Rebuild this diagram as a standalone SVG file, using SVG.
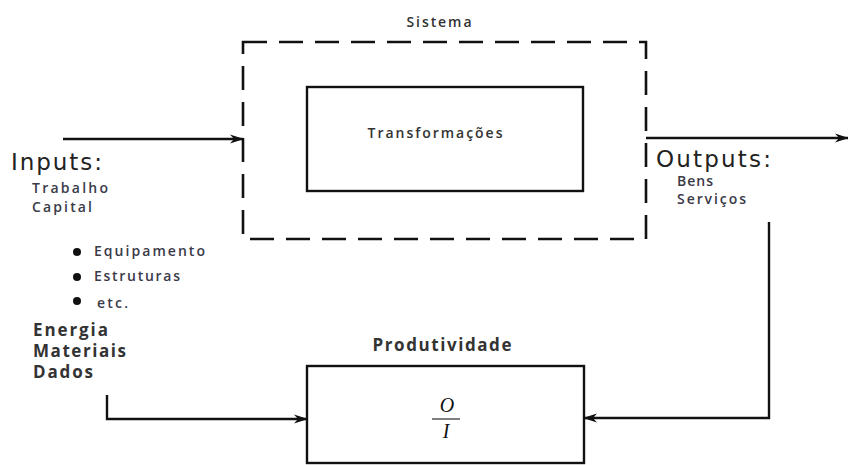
<svg xmlns="http://www.w3.org/2000/svg" width="848" height="465" viewBox="0 0 848 465">
<defs>
<marker id="arr" markerWidth="14" markerHeight="10" refX="13" refY="5" orient="auto" markerUnits="userSpaceOnUse">
<path d="M0,0.5 L14,5 L0,9.5 L4,5 Z" fill="#111"/>
</marker>
<style>
.ln{fill:none;stroke:#111;stroke-width:2.4}
.box{fill:none;stroke:#111;stroke-width:2.4}
.dash{fill:none;stroke:#111;stroke-width:2.6;stroke-dasharray:24 12}
.big{font-family:"DejaVu Sans",sans-serif;font-size:23px;fill:#222}
.sm{font-family:"Open Sans","DejaVu Sans",sans-serif;font-size:14px;font-weight:600;fill:#3a3a48}
.md{font-family:"Open Sans","DejaVu Sans",sans-serif;font-size:17px;font-weight:700;fill:#333}
.ttl{font-family:"Open Sans","DejaVu Sans",sans-serif;font-size:14px;font-weight:600;fill:#333}
.math{font-family:"Liberation Serif",serif;font-style:italic;font-size:20px;fill:#111}
</style>
</defs>
<rect width="848" height="465" fill="#fff"/>
<g id="sistema">
<rect class="dash" x="243" y="42" width="403" height="197"/>
<text class="ttl" x="439" y="27" text-anchor="middle" textLength="65">Sistema</text>
</g>
<g id="transformacoes">
<rect class="box" x="307" y="87" width="276" height="104"/>
<text class="ttl" x="435" y="138" text-anchor="middle" textLength="135">Transformações</text>
</g>
<g id="produtividade">
<rect class="box" x="307" y="366" width="277" height="97"/>
<text class="md" x="442" y="351" text-anchor="middle" textLength="139">Produtividade</text>
<text class="math" x="447" y="412" text-anchor="middle">O</text>
<line x1="432" y1="419" x2="460" y2="419" stroke="#555" stroke-width="1.5"/>
<text class="math" x="446" y="438" text-anchor="middle">I</text>
</g>
<g id="inputs">
<text class="big" x="11" y="170" textLength="91">Inputs:</text>
<text class="sm" x="32" y="193" textLength="76">Trabalho</text>
<text class="sm" x="32" y="212" textLength="60">Capital</text>
<circle cx="77" cy="252" r="4" fill="#111"/>
<circle cx="77" cy="277" r="4" fill="#111"/>
<circle cx="77" cy="301" r="4" fill="#111"/>
<text class="sm" x="94" y="256" textLength="111">Equipamento</text>
<text class="sm" x="94" y="281" textLength="86">Estruturas</text>
<text class="sm" x="97" y="308" textLength="31">etc.</text>
<text class="md" x="33" y="336" textLength="75">Energia</text>
<text class="md" x="33" y="357" textLength="93">Materiais</text>
<text class="md" x="33" y="378" textLength="60">Dados</text>
</g>
<g id="outputs">
<text class="big" x="656" y="167" textLength="115">Outputs:</text>
<text class="sm" x="677" y="186" textLength="36">Bens</text>
<text class="sm" x="677" y="204" textLength="69">Serviços</text>
</g>
<g id="connectors">
<line class="ln" x1="63" y1="139" x2="243" y2="139" marker-end="url(#arr)"/>
<line class="ln" x1="646" y1="138" x2="848" y2="138" marker-end="url(#arr)"/>
<polyline class="ln" points="107,395 107,419 307,419" marker-end="url(#arr)"/>
<polyline class="ln" points="769,222 769,418 584,418" marker-end="url(#arr)"/>
</g>
</svg>
